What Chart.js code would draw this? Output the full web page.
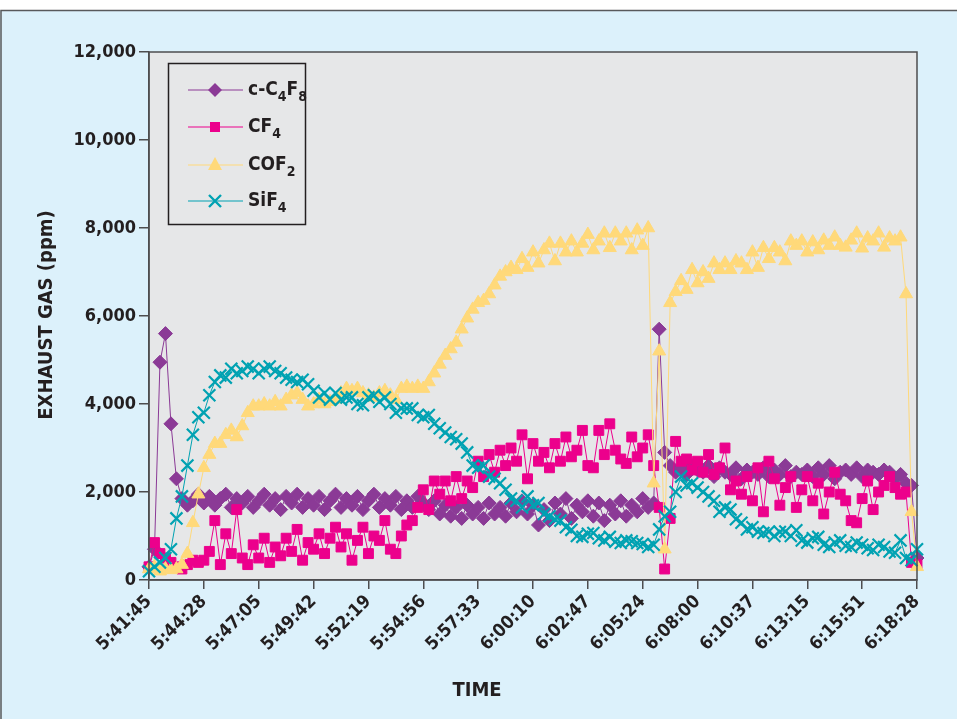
<!DOCTYPE html>
<html>
<head>
<meta charset="utf-8">
<script src="https://cdn.jsdelivr.net/npm/chart.js@4.4.1/dist/chart.umd.min.js"></script>
<style>
  html, body { margin: 0; padding: 0; background: #ffffff; }
  #wrap { width: 957px; height: 719px; }
</style>
</head>
<body>
<div id="wrap"><canvas id="exhaust-chart" width="957" height="719"></canvas></div>
<script>
// x tick labels (one every 10 samples)
const timeTicks = ["5:41:45", "5:44:28", "5:47:05", "5:49:42", "5:52:19", "5:54:56", "5:57:33",
    "6:00:10", "6:02:47", "6:05:24", "6:08:00", "6:10:37", "6:13:15", "6:15:51", "6:18:28"];
const samplesPerTick = 10;

// exhaust gas, ppm (141 samples)
const c4f8 = [300, 700, 4950, 5600, 3550, 2300, 1850, 1700, 1800, 1950,
    1750, 1900, 1700, 1850, 1950, 1650, 1850, 1750, 1900, 1650,
    1800, 1950, 1700, 1850, 1600, 1900, 1750, 1950, 1650, 1850,
    1700, 1900, 1600, 1800, 1950, 1650, 1850, 1700, 1900, 1600,
    1800, 1950, 1650, 1850, 1700, 1900, 1600, 1800, 1650, 1900,
    1750, 1600, 1800, 1500, 1700, 1450, 1650, 1400, 1700, 1500,
    1650, 1400, 1750, 1500, 1650, 1450, 1750, 1550, 1800, 1500,
    1700, 1250, 1600, 1350, 1750, 1500, 1850, 1400, 1700, 1550,
    1800, 1450, 1750, 1350, 1700, 1500, 1800, 1450, 1700, 1550,
    1850, 1650, 1750, 5700, 2900, 2600, 2450, 2550, 2400, 2600,
    2500, 2450, 2600, 2350, 2550, 2450, 2400, 2550, 2300, 2500,
    2450, 2400, 2550, 2350, 2500, 2400, 2600, 2350, 2450, 2400,
    2500, 2350, 2550, 2400, 2600, 2300, 2450, 2500, 2400, 2550,
    2350, 2500, 2450, 2400, 2500, 2450, 2300, 2400, 2200, 2150,
    500];

const cf4 = [300, 850, 600, 500, 400, 300, 250, 350, 450, 400,
    450, 650, 1350, 350, 1050, 600, 1600, 500, 350, 800,
    500, 950, 400, 750, 550, 950, 650, 1150, 450, 850,
    700, 1050, 600, 950, 1200, 750, 1050, 450, 900, 1200,
    600, 1000, 900, 1350, 700, 600, 1000, 1250, 1350, 1650,
    2050, 1600, 2250, 1950, 2250, 1800, 2350, 1850, 2250, 2100,
    2700, 2350, 2850, 2450, 2950, 2600, 3000, 2700, 3300, 2300,
    3100, 2700, 2900, 2550, 3100, 2700, 3250, 2800, 2950, 3400,
    2600, 2550, 3400, 2850, 3550, 2950, 2750, 2650, 3250, 2800,
    3000, 3300, 2600, 1650, 250, 1400, 3150, 2700, 2750, 2500,
    2700, 2450, 2850, 2400, 2550, 3000, 2050, 2250, 1950, 2350,
    1800, 2550, 1550, 2700, 2300, 1700, 2100, 2350, 1650, 2050,
    2350, 1800, 2200, 1500, 2000, 2450, 1950, 1800, 1350, 1300,
    1850, 2250, 1600, 2000, 2150, 2350, 2100, 1950, 2000, 400,
    350];

const cof2 = [250, 300, 200, 250, 230, 250, 350, 600, 1300, 1950,
    2550, 2850, 3100, 3100, 3300, 3400, 3250, 3500, 3800, 3950,
    3950, 4000, 3950, 4050, 3950, 4100, 4200, 4250, 4100, 3950,
    4000, 4100, 4000, 4050, 4100, 4250, 4350, 4300, 4350, 4250,
    4200, 4150, 4250, 4300, 4200, 4100, 4350, 4400, 4350, 4400,
    4350, 4500, 4700, 4900, 5100, 5250, 5400, 5700, 5950, 6150,
    6300, 6350, 6500, 6700, 6900, 7000, 7100, 7050, 7300, 7100,
    7450, 7200, 7500, 7650, 7250, 7650, 7450, 7700, 7450, 7650,
    7850, 7500, 7700, 7880, 7550, 7880, 7700, 7880, 7500, 7950,
    7600, 8000, 2200, 5200, 700, 6300, 6550, 6800, 6600, 7050,
    6750, 7000, 6850, 7200, 7050, 7200, 7050, 7250, 7200, 7050,
    7450, 7100, 7550, 7300, 7550, 7450, 7250, 7700, 7600, 7700,
    7450, 7680, 7500, 7720, 7600, 7790, 7600, 7560, 7720, 7880,
    7540, 7770, 7700, 7880, 7560, 7770, 7700, 7790, 6500, 1550,
    300];

const sif4 = [200, 300, 400, 500, 700, 1400, 1900, 2600, 3300, 3700,
    3800, 4200, 4500, 4650, 4600, 4800, 4700, 4750, 4850, 4800,
    4700, 4800, 4850, 4750, 4700, 4600, 4550, 4500, 4550, 4450,
    4300, 4150, 4250, 4100, 4250, 4100, 4150, 4150, 4000, 3970,
    4150, 4200, 4050, 4150, 4000, 3800, 3900, 3900, 3900, 3750,
    3700, 3750, 3550, 3450, 3350, 3250, 3200, 3100, 2900, 2600,
    2550, 2600, 2350, 2300, 2200, 2050, 1850, 1800, 1650, 1900,
    1700, 1750, 1500, 1450, 1380, 1350, 1200, 1140, 1000, 980,
    1050, 1070, 950, 900, 980, 870, 840, 900, 880, 840,
    820, 750, 800, 1150, 1450, 1550, 2000, 2350, 2150, 2200,
    2100, 2000, 1900, 1800, 1550, 1650, 1600, 1380, 1300, 1150,
    1200, 1100, 1070, 1100, 1000, 1090, 1100, 1000, 1130, 900,
    850, 950, 980, 800, 750, 850, 900, 780, 750, 850,
    800, 720, 680, 800, 750, 650, 620, 900, 500, 450,
    700];

const labels = c4f8.map((_, i) => i);

const FONT = "'Liberation Sans Narrow', 'DejaVu Sans Condensed', 'Roboto Condensed', sans-serif";
const INK = "#231f20";

function series(label, data, color, style, radius, order) {
    return {
        label: label,
        data: data,
        borderColor: color,
        backgroundColor: color,
        borderWidth: 1,
        pointStyle: style,
        pointRadius: radius,
        pointBorderWidth: style === "crossRot" ? 2.2 : 1,
        pointBackgroundColor: color,
        pointBorderColor: color,
        tension: 0,
        clip: false,
        order: order
    };
}

// subscripts for the digits in formulas
function drawFormula(ctx, text, x, y) {
    const parts = text.match(/\d+|\D+/g);
    parts.forEach(p => {
        const sub = /\d/.test(p);
        ctx.font = (sub ? "bold 14px " : "bold 19px ") + FONT;
        ctx.fillText(p, x, sub ? y + 7 : y);
        x += ctx.measureText(p).width;
    });
}

function marker(ctx, style, color, x, y) {
    ctx.save();
    ctx.fillStyle = color;
    ctx.strokeStyle = color;
    ctx.beginPath();
    if (style === "rectRot") {
        ctx.moveTo(x, y - 7); ctx.lineTo(x + 7, y); ctx.lineTo(x, y + 7); ctx.lineTo(x - 7, y);
        ctx.closePath(); ctx.fill();
    } else if (style === "rect") {
        ctx.rect(x - 5, y - 5, 10, 10); ctx.fill();
    } else if (style === "triangle") {
        ctx.moveTo(x, y - 8); ctx.lineTo(x + 7, y + 5); ctx.lineTo(x - 7, y + 5);
        ctx.closePath(); ctx.fill();
    } else {
        ctx.lineWidth = 2.4;
        ctx.moveTo(x - 6, y - 6); ctx.lineTo(x + 6, y + 6);
        ctx.moveTo(x + 6, y - 6); ctx.lineTo(x - 6, y + 6);
        ctx.stroke();
    }
    ctx.restore();
}

const framePlugin = {
    id: "framePlugin",
    beforeDraw(chart) {
        const { ctx, chartArea: a, width, height } = chart;
        ctx.save();
        ctx.fillStyle = "#ffffff";
        ctx.fillRect(0, 0, width, height);
        ctx.fillStyle = "#dcf1fb";
        ctx.fillRect(0, 10, width, height - 10);
        ctx.strokeStyle = "#58595b";
        ctx.lineWidth = 1.5;
        ctx.beginPath();
        ctx.moveTo(1, height); ctx.lineTo(1, 10.5); ctx.lineTo(width, 10.5);
        ctx.stroke();
        ctx.fillStyle = "#e6e7e8";
        ctx.fillRect(a.left, a.top, a.right - a.left, a.bottom - a.top);
        ctx.restore();
    },
    afterDraw(chart) {
        const { ctx, chartArea: a } = chart;
        ctx.save();
        ctx.strokeStyle = "#4d4d4f";
        ctx.lineWidth = 1.5;
        ctx.strokeRect(a.left, a.top, a.right - a.left, a.bottom - a.top);

        // axis titles
        ctx.fillStyle = INK;
        ctx.textAlign = "center";
        ctx.textBaseline = "middle";
        ctx.font = "bold 20px " + FONT;
        ctx.fillText("TIME", 477, 691);
        ctx.save();
        ctx.translate(47, 315);
        ctx.rotate(-Math.PI / 2);
        ctx.font = "bold 20px " + FONT;
        ctx.fillText("EXHAUST GAS (ppm)", 0, 0);
        ctx.restore();

        // legend box inside the plot
        ctx.strokeStyle = INK;
        ctx.lineWidth = 1.5;
        ctx.strokeRect(168.5, 63.5, 137, 161);
        const rows = [90, 127, 165, 201];
        ctx.textAlign = "left";
        chart.data.datasets.forEach((ds, i) => {
            const y = rows[i];
            ctx.strokeStyle = ds.borderColor;
            ctx.lineWidth = 1.2;
            ctx.beginPath();
            ctx.moveTo(188, y); ctx.lineTo(243, y);
            ctx.stroke();
            marker(ctx, ds.pointStyle, ds.borderColor, 215, y);
            ctx.fillStyle = INK;
            drawFormula(ctx, ds.label, 248, y);
        });
        ctx.restore();
    }
};

const tickFont = { family: FONT, size: 18, weight: "bold" };

new Chart(document.getElementById("exhaust-chart"), {
    type: "line",
    data: {
        labels: labels,
        datasets: [
            series("c-C4F8", c4f8, "#8b3a96", "rectRot", 7, 4),
            series("CF4", cf4, "#ec008c", "rect", 7, 3),
            series("COF2", cof2, "#ffd97a", "triangle", 7.5, 2),
            series("SiF4", sif4, "#00a2b2", "crossRot", 8.5, 1)
        ]
    },
    options: {
        responsive: false,
        animation: false,
        layout: { padding: { top: 52, right: 40, bottom: 29, left: 0 } },
        plugins: {
            legend: { display: false },
            tooltip: { enabled: false }
        },
        scales: {
            x: {
                type: "category",
                offset: false,
                border: { display: true, color: "#4d4d4f", width: 1.5 },
                grid: { display: true, drawOnChartArea: false, drawTicks: true, tickLength: 9, color: "#4d4d4f", lineWidth: 1.5 },
                ticks: {
                    autoSkip: false,
                    maxRotation: 45,
                    minRotation: 45,
                    padding: 2,
                    color: INK,
                    font: tickFont,
                    callback: (v, i) => i % samplesPerTick === 0 ? timeTicks[i / samplesPerTick] : null
                },
                afterFit: s => { s.height = 110; }
            },
            y: {
                min: 0,
                max: 12000,
                border: { display: true, color: "#4d4d4f", width: 1.5 },
                grid: { drawOnChartArea: false, tickLength: 10, color: "#4d4d4f", lineWidth: 1.5 },
                ticks: {
                    stepSize: 2000,
                    padding: 3,
                    color: INK,
                    font: tickFont,
                    callback: v => v.toLocaleString("en-US")
                },
                afterFit: s => { s.width = 149; }
            }
        }
    },
    plugins: [framePlugin]
});
</script>
</body>
</html>
